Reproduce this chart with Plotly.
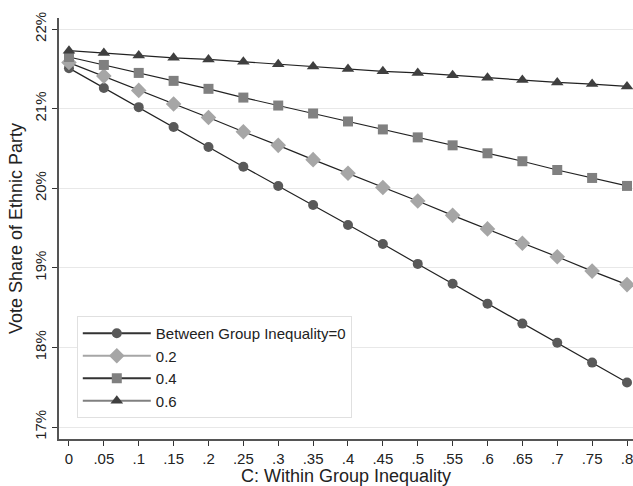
import plotly.graph_objects as go

x_vals = [0, .05, .1, .15, .2, .25, .3, .35, .4, .45, .5, .55, .6, .65, .7, .75, .8]
x_labels = ["0", ".05", ".1", ".15", ".2", ".25", ".3", ".35", ".4", ".45", ".5", ".55", ".6", ".65", ".7", ".75", ".8"]

between_0 = [21.51, 21.26, 21.02, 20.77, 20.52, 20.27, 20.03, 19.79, 19.54, 19.30, 19.05, 18.80, 18.55, 18.30, 18.06, 17.81, 17.56]
between_02 = [21.58, 21.41, 21.23, 21.06, 20.89, 20.71, 20.54, 20.36, 20.19, 20.01, 19.84, 19.66, 19.49, 19.31, 19.14, 18.96, 18.79]
between_04 = [21.65, 21.55, 21.45, 21.35, 21.25, 21.14, 21.04, 20.94, 20.84, 20.74, 20.64, 20.54, 20.44, 20.34, 20.23, 20.13, 20.03]
between_06 = [21.73, 21.70, 21.67, 21.64, 21.62, 21.59, 21.56, 21.53, 21.50, 21.47, 21.45, 21.42, 21.39, 21.36, 21.33, 21.31, 21.28]

y_ticks = [17, 18, 19, 20, 21, 22]
y_labels = ["17%", "18%", "19%", "20%", "21%", "22%"]

series_names = ["Between Group Inequality=0", "0.2", "0.4", "0.6"]
series_data = [between_0, between_02, between_04, between_06]
marker_symbols = ["circle", "diamond", "square", "triangle-up"]
marker_colors = ["#595959", "#a6a6a6", "#808080", "#3f3f3f"]
marker_sizes = [10, 12, 10, 11]
legend_line_colors = ["#333333", "#a6a6a6", "#333333", "#808080"]

fig = go.Figure()
for name, ys, sym, mc, ms, lc in zip(series_names, series_data, marker_symbols,
                                      marker_colors, marker_sizes, legend_line_colors):
    fig.add_trace(go.Scatter(
        x=x_vals, y=ys, mode="lines+markers", name=name, showlegend=False,
        cliponaxis=False,
        line=dict(color="#222222", width=1.2),
        marker=dict(symbol=sym, color=mc, size=ms, line=dict(width=0)),
    ))
    fig.add_trace(go.Scatter(
        x=[None], y=[None], mode="lines+markers", name=name, showlegend=True,
        line=dict(color=lc, width=2),
        marker=dict(symbol=sym, color=mc, size=ms, line=dict(width=0)),
    ))

fig.update_layout(
    width=633, height=486,
    margin=dict(l=59, r=0, t=18, b=47),
    paper_bgcolor="white", plot_bgcolor="white",
    font=dict(family="Liberation Sans, Arial, sans-serif", size=15, color="#222222"),
    showlegend=True,
    legend=dict(
        x=0.031, y=0.292, xanchor="left", yanchor="top",
        bgcolor="white", bordercolor="#e0e0e0", borderwidth=1,
        font=dict(size=15, color="#222222"),
        itemwidth=68, tracegroupgap=0,
    ),
    xaxis=dict(
        range=[-0.0143, 0.8086],
        automargin=False,
        tickmode="array", tickvals=x_vals, ticktext=x_labels,
        ticks="outside", ticklen=5, tickcolor="#333333",
        ticklabelstandoff=0, ticklabeloverflow="allow",
        showgrid=False, zeroline=False,
        showline=True, linecolor="#555555", linewidth=1.5,
        tickfont=dict(size=15),
        title=dict(text="C: Within Group Inequality", font=dict(size=18), standoff=0),
    ),
    yaxis=dict(
        range=[16.85, 22.14],
        automargin=False,
        tickmode="array", tickvals=y_ticks, ticktext=y_labels,
        tickangle=-90,
        ticks="outside", ticklen=5, tickcolor="#333333",
        ticklabelstandoff=0,
        showgrid=True, gridcolor="#e8e8e8", gridwidth=1,
        zeroline=False,
        showline=True, linecolor="#555555", linewidth=1.5,
        tickfont=dict(size=15),
        title=dict(text="Vote Share of Ethnic Party", font=dict(size=18), standoff=5),
    ),
)

fig.write_html(
    "out.html",
    config={"displayModeBar": False},
    post_script="document.body.style.margin='0';document.body.style.overflow='hidden';",
)
